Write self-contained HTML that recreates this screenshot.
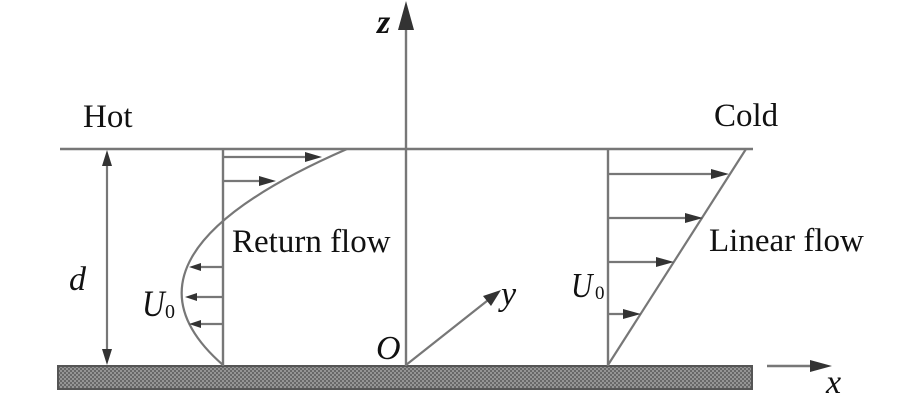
<!DOCTYPE html>
<html>
<head>
<meta charset="utf-8">
<style>
html,body{margin:0;padding:0;background:#fff;}
svg{display:block;}
text{font-family:"Liberation Serif","Times New Roman",serif;fill:#111;}
.it{font-style:italic;}
</style>
</head>
<body>
<svg width="921" height="402" viewBox="0 0 921 402" xmlns="http://www.w3.org/2000/svg">
<defs>
<pattern id="hatch" width="4" height="4" patternUnits="userSpaceOnUse">
<rect width="4" height="4" fill="#959595"/>
<rect x="0" y="0" width="2" height="2" fill="#686868"/>
<rect x="2" y="2" width="2" height="2" fill="#686868"/>
</pattern>
</defs>

<!-- plate -->
<rect x="58" y="366" width="694" height="23" fill="url(#hatch)" stroke="#555" stroke-width="2"/>

<!-- top line -->
<line x1="60" y1="149" x2="753" y2="149" stroke="#777" stroke-width="2.4"/>

<!-- z axis -->
<line x1="406" y1="26" x2="406" y2="366" stroke="#777" stroke-width="2.4"/>
<polygon points="406,1 398,30 414,30" fill="#333"/>

<!-- d dimension -->
<line x1="107" y1="160" x2="107" y2="354" stroke="#777" stroke-width="2.2"/>
<polygon points="107,150 102,166 112,166" fill="#333"/>
<polygon points="107,365 102,349 112,349" fill="#333"/>

<!-- left profile -->
<line x1="223" y1="149" x2="223" y2="366" stroke="#777" stroke-width="2.4"/>
<path d="M223,365 Q99,257 347,149" fill="none" stroke="#777" stroke-width="2.2"/>
<line x1="223" y1="157" x2="310" y2="157" stroke="#777" stroke-width="2.2"/>
<polygon points="322,157 305,152 305,162" fill="#333"/>
<line x1="223" y1="181" x2="264" y2="181" stroke="#777" stroke-width="2.2"/>
<polygon points="276,181 259,176 259,186" fill="#333"/>
<line x1="223" y1="267" x2="198" y2="267" stroke="#777" stroke-width="2.2"/>
<polygon points="189,267 201,263 201,271" fill="#333"/>
<line x1="223" y1="297" x2="194" y2="297" stroke="#777" stroke-width="2.2"/>
<polygon points="185,297 197,293 197,301" fill="#333"/>
<line x1="223" y1="324" x2="198" y2="324" stroke="#777" stroke-width="2.2"/>
<polygon points="189,324 201,320 201,328" fill="#333"/>

<!-- right profile -->
<line x1="608" y1="149" x2="608" y2="366" stroke="#777" stroke-width="2.4"/>
<line x1="608" y1="365" x2="746" y2="149" stroke="#777" stroke-width="2.2"/>
<line x1="608" y1="174" x2="716" y2="174" stroke="#777" stroke-width="2.2"/>
<polygon points="729,174 711,169 711,179" fill="#333"/>
<line x1="608" y1="218" x2="690" y2="218" stroke="#777" stroke-width="2.2"/>
<polygon points="703,218 685,213 685,223" fill="#333"/>
<line x1="608" y1="262" x2="661" y2="262" stroke="#777" stroke-width="2.2"/>
<polygon points="674,262 656,257 656,267" fill="#333"/>
<line x1="608" y1="314" x2="628" y2="314" stroke="#777" stroke-width="2.2"/>
<polygon points="641,314 623,309 623,319" fill="#333"/>

<!-- x axis -->
<line x1="767" y1="366" x2="815" y2="366" stroke="#777" stroke-width="2.4"/>
<polygon points="832,366 810,360 810,372" fill="#333"/>

<!-- y axis -->
<line x1="406" y1="365" x2="492" y2="297" stroke="#777" stroke-width="2.2"/>
<polygon points="501,290 483,296 491,306" fill="#333"/>

<!-- labels -->
<text x="83" y="127" font-size="33">Hot</text>
<text x="714" y="126" font-size="33">Cold</text>
<text x="232" y="252" font-size="33">Return flow</text>
<text x="709" y="251" font-size="33">Linear flow</text>
<text x="377" y="33" font-size="34" class="it" font-weight="bold">z</text>
<text x="69" y="290" font-size="34" class="it">d</text>
<text x="142" y="316" font-size="37" class="it" transform="translate(142,316) scale(0.85,1) translate(-142,-316)">U</text>
<text x="165" y="318" font-size="20">0</text>
<text x="571" y="297" font-size="35" class="it" transform="translate(571,297) scale(0.85,1) translate(-571,-297)">U</text>
<text x="595" y="299" font-size="19">0</text>
<text x="376" y="359" font-size="34" class="it">O</text>
<text x="501" y="305" font-size="34" class="it">y</text>
<text x="826" y="393" font-size="34" class="it">x</text>
</svg>
</body>
</html>
